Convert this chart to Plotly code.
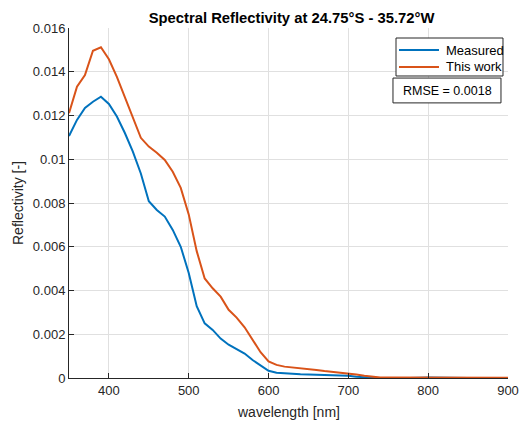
import plotly.graph_objects as go

wavelength = list(range(350, 910, 10))
measured = [0.01106, 0.0118, 0.01234, 0.01263, 0.01286, 0.01253, 0.01195, 0.0112, 0.01035, 0.00935,
            0.00808, 0.00768, 0.00738, 0.00677, 0.006, 0.0048, 0.00328, 0.0025, 0.0022, 0.0018,
            0.00152, 0.0013, 0.00112, 0.00082, 0.00058, 0.00033, 0.00024, 0.0002, 0.00019, 0.00017,
            0.00016, 0.00014, 0.00012, 0.00011, 0.0001, 0.0001, 0.00006, 0.00003, 0.00001, -0.00001,
            -0.00002, -0.00002, -0.00001, 0.0, 0.00001, 0.00002, 0.00001, 0.00001, 0.0, 0.0,
            0.0, 0.0, 0.0, 0.0, 0.0, 0.0]
this_work = [0.01211, 0.01332, 0.01385, 0.01496, 0.01512, 0.01457, 0.01377, 0.01286, 0.01195, 0.01098,
             0.01058, 0.0103, 0.00997, 0.00943, 0.00869, 0.00748, 0.0058, 0.00455, 0.0041, 0.00372,
             0.00312, 0.00276, 0.00232, 0.00178, 0.00118, 0.00076, 0.0006, 0.00052, 0.00049, 0.00046,
             0.00042, 0.00037, 0.00032, 0.00028, 0.00026, 0.00022, 0.00016, 0.0001, 0.00005, 0.00002,
             0.00002, 0.00002, 0.00002, 0.00002, 0.00003, 0.00003, 0.00002, 0.00001, 0.00001, 0.00001,
             0.00001, 0.00001, 0.00001, 0.00001, 0.00001, 0.00001]

series_names = ["Measured", "This work"]
series_colors = ["#0072BD", "#D95319"]
rmse_text = "RMSE = 0.0018"

y_ticks = [0, 0.002, 0.004, 0.006, 0.008, 0.01, 0.012, 0.014, 0.016]
y_ticktext = ["0", "0.002", "0.004", "0.006", "0.008", "0.01", "0.012", "0.014", "0.016"]
x_ticks = [400, 500, 600, 700, 800, 900]

font = "Liberation Sans, Arial, sans-serif"
fig = go.Figure()
for name, ys, col in zip(series_names, [measured, this_work], series_colors):
    fig.add_trace(go.Scatter(x=wavelength, y=ys, mode="lines", name=name,
                             line=dict(color=col, width=2), showlegend=False))

fig.update_layout(
    width=528, height=424,
    margin=dict(l=69, r=20, t=28, b=46),
    paper_bgcolor="white", plot_bgcolor="white",
    font=dict(family=font, size=13, color="#262626"),
    title=dict(text="<b>Spectral Reflectivity at 24.75°S - 35.72°W</b>", x=291.5 / 528,
               xanchor="center", y=0.957, yanchor="middle", font=dict(size=14.8, color="black")),
)
fig.update_xaxes(range=[350, 900], tickvals=x_ticks, showgrid=True, gridcolor="#e0e0e0",
                 showline=True, linecolor="#262626", linewidth=1, ticks="inside", ticklen=5,
                 tickcolor="#262626", zeroline=False, mirror=False, automargin=False)
fig.update_yaxes(range=[0, 0.016], tickvals=y_ticks, ticktext=y_ticktext, showgrid=True,
                 gridcolor="#e0e0e0", showline=True, linecolor="#262626", linewidth=1,
                 ticks="inside", ticklen=5, tickcolor="#262626", zeroline=False, automargin=False)

# axis titles
fig.add_annotation(xref="paper", yref="paper", x=0.5, y=-34 / 350, xanchor="center", yanchor="middle",
                   text="wavelength [nm]", showarrow=False, font=dict(size=14, color="#262626"))
fig.add_annotation(xref="paper", yref="paper", x=-51 / 439, y=0.5, xanchor="center", yanchor="middle",
                   text="Reflectivity [-]", textangle=-90, showarrow=False,
                   font=dict(size=14, color="#262626"))

# legend box (MATLAB style)
fig.add_shape(type="rect", xref="paper", yref="paper", x0=0.7449, x1=0.9886, y0=0.8629, y1=0.9714,
              line=dict(color="#262626", width=1), fillcolor="white", layer="above")
leg_rows = [0.9371, 0.8886]
for name, col, yy in zip(series_names, series_colors, leg_rows):
    fig.add_shape(type="line", xref="paper", yref="paper", x0=0.7517, x1=0.8428, y0=yy, y1=yy,
                  line=dict(color=col, width=2), layer="above")
    fig.add_annotation(xref="paper", yref="paper", x=0.8542, y=yy, xanchor="left", yanchor="middle",
                       text=name, showarrow=False, font=dict(size=13, color="black"))

# RMSE box
fig.add_shape(type="rect", xref="paper", yref="paper", x0=0.738, x1=0.984, y0=0.786, y1=0.857,
              line=dict(color="#262626", width=1), fillcolor="white", layer="above")
fig.add_annotation(xref="paper", yref="paper", x=0.7556, y=0.8214, xanchor="left", yanchor="middle",
                   text=rmse_text, showarrow=False, font=dict(size=12.5, color="black"))

fig.write_html("out.html")
